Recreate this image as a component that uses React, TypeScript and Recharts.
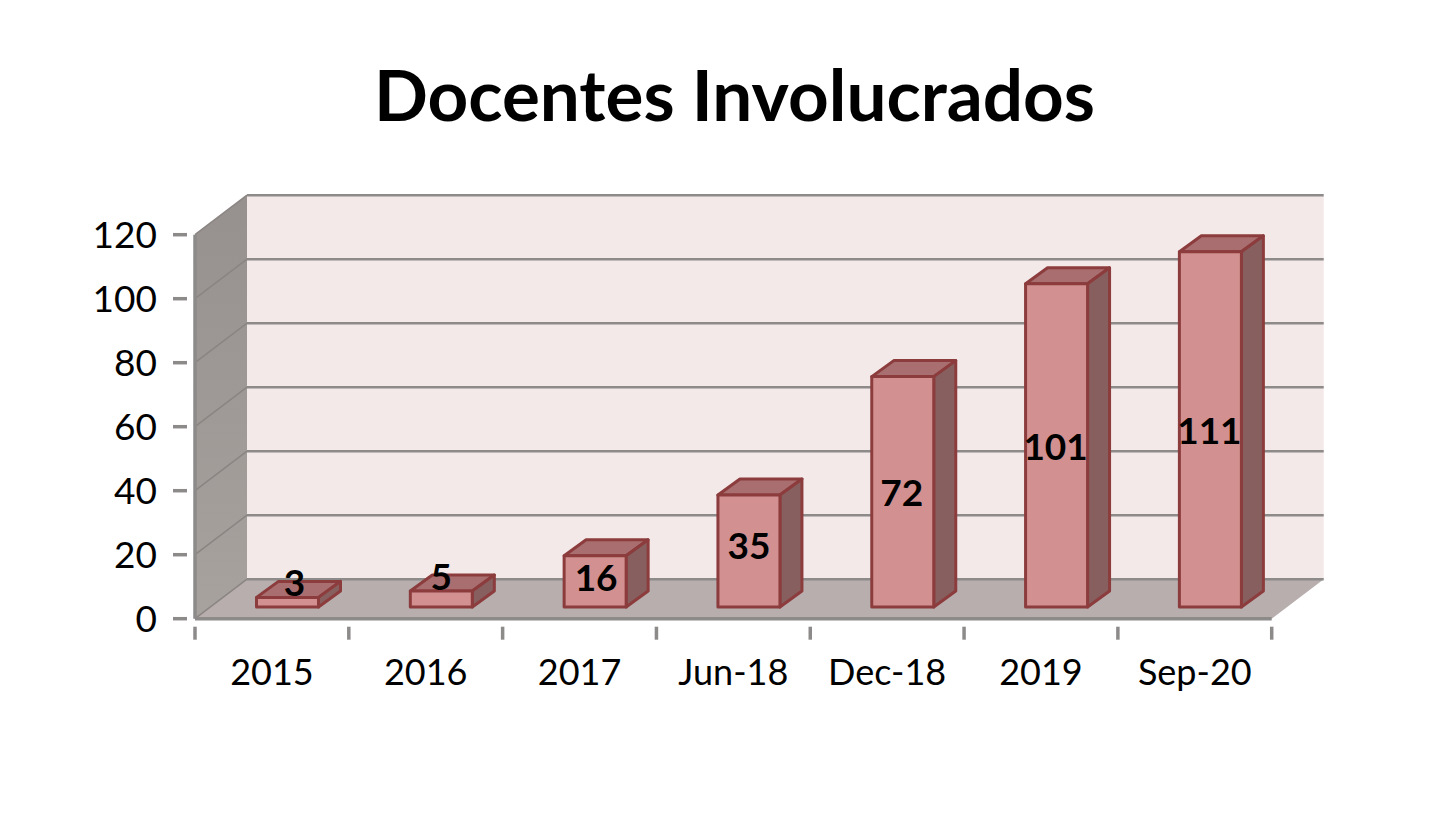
import React from "react";
import { BarChart, Bar, XAxis, YAxis, ReferenceArea, ReferenceLine, LabelList } from "recharts";

const categories = ["2015", "2016", "2017", "Jun-18", "Dec-18", "2019", "Sep-20"];
const docentes = [3, 5, 16, 35, 72, 101, 111];
const yTicks = [0, 20, 40, 60, 80, 100, 120];
const titleText = "Docentes Involucrados";
const table = categories.map((c, i) => ({ c, v: docentes[i] }));

// style constants
const FONT = "Lato, Carlito, sans-serif";
const WALL_DX = 52, WALL_DY = -39.5;
const BAR_SHIFT_X = 15.5, BAR_SHIFT_Y = -11.7;
const BAR_DX = 22, BAR_DY = -16;
const GRAY = "#8d8a8a";
const labelNudge = [[7, -21], [0, -24], [1, -5], [0, -7], [-1, 0], [-1, 0], [-1, 0]];

const Walls = (p: any) => {
  const { x, y, width: w, height: h } = p;
  const b = y + h, r = x + w;
  return (
    <g>
      <defs>
        <linearGradient id="sideWall" x1="0" y1="1" x2="0" y2="0">
          <stop offset="0" stopColor="#a8a29f" />
          <stop offset="1" stopColor="#96908e" />
        </linearGradient>
      </defs>
      <rect x={x + WALL_DX} y={y + WALL_DY} width={w} height={h} fill="#f4e9e9" />
      <polygon points={`${x},${y} ${x + WALL_DX},${y + WALL_DY} ${x + WALL_DX},${b + WALL_DY} ${x},${b}`} fill="url(#sideWall)" />
      <polygon points={`${x},${b} ${r},${b} ${r + WALL_DX},${b + WALL_DY} ${x + WALL_DX},${b + WALL_DY}`} fill="#b8aeae" />
    </g>
  );
};

const GridLine = (p: any) => {
  const { x1, x2, y1 } = p;
  return (
    <g>
      <line x1={x1 + WALL_DX} x2={x2 + WALL_DX} y1={y1 + WALL_DY} y2={y1 + WALL_DY} stroke={GRAY} strokeWidth={2.5} />
      <line x1={x1} x2={x1 + WALL_DX} y1={y1} y2={y1 + WALL_DY} stroke="#8a8583" strokeWidth={1.5} />
    </g>
  );
};

const Box = (p: any) => {
  const { x, y, width: w, height: h } = p;
  const l = x + BAR_SHIFT_X, t = y + BAR_SHIFT_Y, r = l + w, b = t + h;
  const stroke = { stroke: "#8c3c3c", strokeWidth: 3, strokeLinejoin: "round" as const };
  return (
    <g>
      <polygon points={`${l},${t} ${r},${t} ${r + BAR_DX},${t + BAR_DY} ${l + BAR_DX},${t + BAR_DY}`} fill="#a86e70" {...stroke} />
      <polygon points={`${r},${t} ${r + BAR_DX},${t + BAR_DY} ${r + BAR_DX},${b + BAR_DY} ${r},${b}`} fill="#875f5f" {...stroke} />
      <rect x={l} y={t} width={w} height={h} fill="#d29190" {...stroke} />
    </g>
  );
};

const BarLabel = (p: any) => {
  const { x, y, width: w, height: h, value, index } = p;
  const [nx, ny] = labelNudge[index] || [0, 0];
  return (
    <text x={x + w / 2 + BAR_SHIFT_X + nx} y={y + h / 2 + BAR_SHIFT_Y + ny} textAnchor="middle" dominantBaseline="central"
      fontFamily={FONT} fontWeight={700} fontSize={37} fill="#000">{value}</text>
  );
};

const YTick = (p: any) => {
  const { x, y, payload } = p;
  return (
    <g>
      <line x1={x - 14} x2={x} y1={y} y2={y} stroke={GRAY} strokeWidth={3.5} />
      <text x={x - 30} y={y - 1} textAnchor="end" dominantBaseline="central" fontFamily={FONT} fontSize={37} fill="#000">{payload.value}</text>
    </g>
  );
};

const XTick = (p: any) => {
  const { x, y, payload, index, width, visibleTicksCount } = p;
  const band = width / visibleTicksCount;
  const left = x - band / 2;
  return (
    <g>
      <line x1={left} x2={left} y1={y} y2={y + 13} stroke={GRAY} strokeWidth={3.5} />
      {index === visibleTicksCount - 1 && <line x1={left + band} x2={left + band} y1={y} y2={y + 13} stroke={GRAY} strokeWidth={3.5} />}
      <text x={x} y={y + 44} textAnchor="middle" dominantBaseline="central" fontFamily={FONT} fontSize={36} fill="#000">{payload.value}</text>
    </g>
  );
};

export default function App() {
  return (
    <div style={{ position: "relative", width: 1430, height: 800 }}>
      <div style={{ position: "absolute", left: 0, width: 1453, top: 44, textAlign: "center", fontFamily: FONT, fontWeight: 700, fontSize: 71, lineHeight: "84px", color: "#000", whiteSpace: "nowrap", zIndex: 2 }}>{titleText}</div>
      <BarChart width={1430} height={800} data={table} barSize={62} margin={{ top: 226.7, right: 166.3, bottom: 0, left: 0 }}>
        <ReferenceArea y1={0} y2={120} shape={Walls} stroke="none" ifOverflow="visible" zIndex={100} />
        {yTicks.map((v) => (
          <ReferenceLine key={v} y={v} shape={GridLine} ifOverflow="visible" zIndex={150} />
        ))}
        <XAxis dataKey="c" height={189.3} interval={0} tickLine={false} tick={XTick} axisLine={{ stroke: GRAY, strokeWidth: 3.5 }} />
        <YAxis width={187} domain={[0, 120]} ticks={yTicks} interval={0} tickLine={false} tick={YTick} axisLine={{ stroke: GRAY, strokeWidth: 3.5 }} />
        <Bar dataKey="v" isAnimationActive={false} shape={Box}>
          <LabelList dataKey="v" content={BarLabel} />
        </Bar>
      </BarChart>
    </div>
  );
}
